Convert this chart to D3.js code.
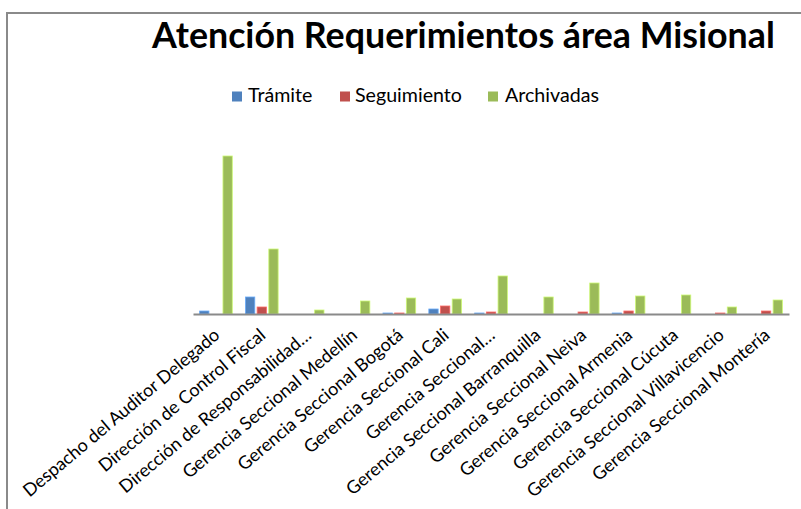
<!DOCTYPE html>
<html>
<head>
<meta charset="utf-8">
<script src="https://cdn.jsdelivr.net/npm/d3@7"></script>
<style>
  html, body { margin: 0; padding: 0; background: #fff; }
  svg { display: block; }
</style>
</head>
<body>
<script>
const title = "Atención Requerimientos área Misional";
const categories = [
  "Despacho del Auditor Delegado",
  "Dirección de Control Fiscal",
  "Dirección de Responsabilidad…",
  "Gerencia Seccional Medellín",
  "Gerencia Seccional Bogotá",
  "Gerencia Seccional Cali",
  "Gerencia Seccional…",
  "Gerencia Seccional Barranquilla",
  "Gerencia Seccional Neiva",
  "Gerencia Seccional Armenia",
  "Gerencia Seccional Cúcuta",
  "Gerencia Seccional Villavicencio",
  "Gerencia Seccional Montería"
];
const seriesNames = ["Trámite", "Seguimiento", "Archivadas"];
const tramite     = [3, 17, 0, 0, 1, 5, 1, 0, 0, 1, 0, 0, 0];
const seguimiento = [0, 7, 0, 0, 1, 8, 2, 0, 2, 3, 0, 1, 3];
const archivadas  = [158, 65, 4, 13, 16, 15, 38, 17, 31, 18, 19, 7, 14];
const colors = ["#4F81BD", "#C0504D", "#9BBB59"];

const W = 801, H = 509;
const svg = d3.select("body").append("svg").attr("width", W).attr("height", H);
const FONT = "Lato, 'Open Sans', sans-serif";

// frame
svg.append("rect").attr("x", 7).attr("y", 13).attr("width", W + 20).attr("height", H + 20)
  .attr("fill", "none").attr("stroke", "#8a8a8a").attr("stroke-width", 2);

// title
const t = svg.append("text").attr("x", 152).attr("y", 48)
  .attr("font-family", FONT).attr("font-weight", "bold").attr("font-size", 32)
  .attr("fill", "#000").text(title);
const tl = t.node().getComputedTextLength();
t.attr("font-size", 32 * 623 / tl);

// scales
const plotLeft = 193, plotRight = 789, baseY = 314;
const x0 = d3.scaleBand().domain(categories).range([plotLeft, plotRight]).padding(0);
const x1 = d3.scaleBand().domain(seriesNames).range([6.6, 39.3]).paddingInner(0.2);
const y = d3.scaleLinear().domain([0, 158]).range([baseY, 156]);

const data = [tramite, seguimiento, archivadas];
const g = svg.append("g");
categories.forEach((c, i) => {
  seriesNames.forEach((s, j) => {
    const v = data[j][i];
    if (v <= 0) return;
    g.append("rect")
      .attr("x", x0(c) + x1(s))
      .attr("y", y(v))
      .attr("width", x1.bandwidth())
      .attr("height", baseY - y(v))
      .attr("fill", colors[j])
      .attr("stroke", d3.color(colors[j]).brighter(0.8))
      .attr("stroke-width", 0.8);
  });
});

// axis
const axis = d3.axisBottom(x0).tickSize(0).tickFormat("");
const ax = svg.append("g").attr("transform", `translate(0,${baseY})`).call(axis);
ax.select(".domain").attr("stroke", "#8a8a8a").attr("stroke-width", 2);

// category labels
const lg = svg.append("g").attr("font-family", FONT).attr("fill", "#000");
const probe = lg.append("text").attr("font-size", 16).text(categories[0]);
const pl = probe.node().getComputedTextLength();
probe.remove();
const labelSize = 16 * 250 / pl;
categories.forEach(c => {
  const cx = x0(c) + x0.bandwidth() / 2;
  lg.append("text")
    .attr("font-size", labelSize)
    .attr("text-anchor", "end")
    .attr("transform", `translate(${cx + 5},${337}) rotate(-40)`)
    .text(c);
});

// legend
const legendItems = [
  { name: "Trámite", sx: 232, tx: 248 },
  { name: "Seguimiento", sx: 340, tx: 355 },
  { name: "Archivadas", sx: 488, tx: 505 }
];
const leg = svg.append("g").attr("font-family", FONT);
const lp = leg.append("text").attr("font-size", 16).text("Seguimiento");
const lpl = lp.node().getComputedTextLength();
lp.remove();
const legSize = 16 * 107 / lpl;
legendItems.forEach((d, i) => {
  leg.append("rect").attr("x", d.sx).attr("y", 91.5).attr("width", 10).attr("height", 10)
    .attr("fill", colors[i]);
  leg.append("text").attr("x", d.tx).attr("y", 102).attr("font-size", legSize)
    .attr("fill", "#000").text(d.name);
});
</script>
</body>
</html>
